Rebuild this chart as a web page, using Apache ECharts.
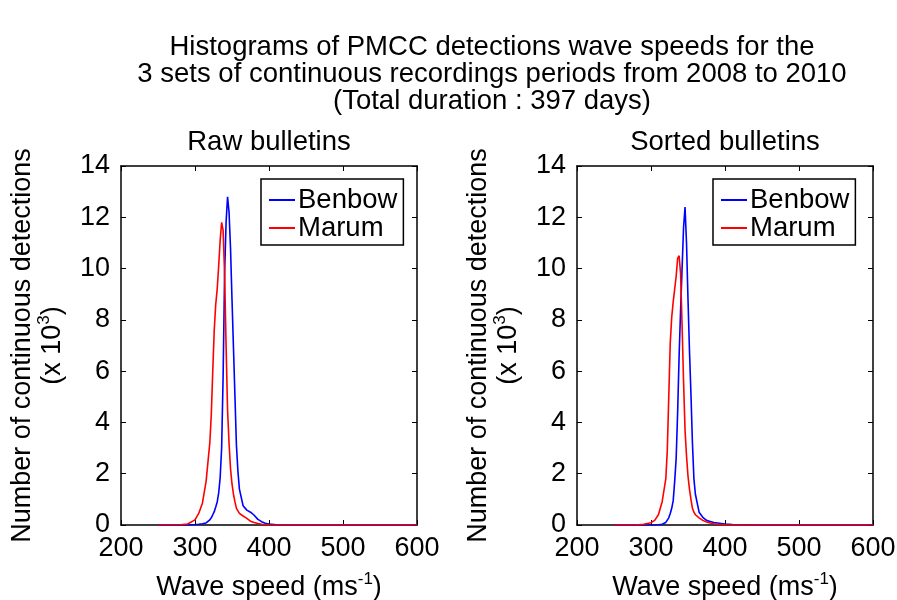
<!DOCTYPE html>
<html>
<head>
<meta charset="utf-8">
<title>PMCC wave speed histograms</title>
<script src="https://cdn.jsdelivr.net/npm/echarts@6/dist/echarts.min.js"></script>
<style>
  html, body { margin: 0; padding: 0; background: #fff; }
  #chart { width: 897px; height: 600px; }
</style>
</head>
<body>
<div id="chart"></div>
<script>
// Wave speed bins (m/s), shared by both panels.
const speeds = [250, 280, 290, 300, 305, 310, 315, 320, 322, 324, 326, 328, 330, 332, 334, 336, 338, 340,
  342, 344, 346, 348, 350, 352, 354, 356, 358, 360, 365, 370, 375, 380, 385, 390, 395, 400, 410, 450, 500, 600];

// Counts in thousands.
const rawBenbow = [0, 0, 0.005, 0.02, 0.03, 0.05, 0.08, 0.2, 0.28, 0.4, 0.52, 0.7, 0.9, 1.25, 1.85, 3.0, 5.8, 9.8,
  11.8, 12.8, 12.2, 10.8, 8.8, 6.9, 5.0, 3.1, 2.1, 1.4, 0.75, 0.58, 0.5, 0.38, 0.22, 0.13, 0.07, 0.04, 0.01, 0, 0, 0];
const rawMarum = [0, 0.01, 0.04, 0.2, 0.45, 0.85, 1.7, 3.2, 4.3, 6.0, 7.6, 8.6, 9.2, 10.1, 11.1, 11.8, 11.5, 9.8,
  7.0, 4.5, 3.2, 2.2, 1.6, 1.2, 0.9, 0.65, 0.55, 0.45, 0.35, 0.26, 0.15, 0.1, 0.06, 0.03, 0.02, 0.01, 0, 0, 0, 0];
const sortedBenbow = [0, 0, 0, 0, 0, 0.01, 0.03, 0.1, 0.17, 0.28, 0.45, 0.65, 0.95, 1.7, 2.6, 4.4, 6.6, 8.4,
  10.0, 11.6, 12.4, 11.0, 8.8, 6.8, 5.1, 3.2, 1.8, 1.2, 0.5, 0.3, 0.18, 0.14, 0.1, 0.08, 0.06, 0.04, 0.02, 0, 0, 0];
const sortedMarum = [0, 0, 0.03, 0.09, 0.18, 0.4, 0.9, 1.8, 2.9, 5.0, 7.1, 8.1, 8.7, 9.2, 9.7, 10.4, 10.5, 9.8,
  7.8, 5.6, 3.7, 2.7, 1.9, 1.4, 1.0, 0.65, 0.5, 0.4, 0.28, 0.18, 0.12, 0.08, 0.05, 0.03, 0.02, 0.01, 0, 0, 0, 0];

const panelTitles = ['Raw bulletins', 'Sorted bulletins'];
const seriesNames = ['Benbow', 'Marum'];
const titleLines = [
  'Histograms of PMCC detections wave speeds for the',
  '3 sets of continuous recordings periods from 2008 to 2010',
  '(Total duration : 397 days)'
];

const FONT = 'Liberation Sans, Arial, Helvetica, sans-serif';
const BLUE = '#0000ff';
const RED = '#ff0000';

const pairs = (ys) => speeds.map((s, i) => [s, ys[i]]);

// Plot boxes in pixels: left panel and right panel.
// outerBoundsMode none keeps the boxes fixed even if labels run close to the edge.
const grids = [
  { left: 121, right: 480, top: 166, bottom: 75, outerBoundsMode: 'none', containLabel: false },
  { left: 577, right: 24, top: 166, bottom: 75, outerBoundsMode: 'none', containLabel: false }
];

const richText = {
  n: { fontSize: 27, fontFamily: FONT, color: '#000', verticalAlign: 'bottom', lineHeight: 30 },
  sup: { fontSize: 17, fontFamily: FONT, color: '#000', verticalAlign: 'top', lineHeight: 30 }
};

const xAxes = [];
const yAxes = [];
grids.forEach((g, i) => {
  // main bottom axis
  xAxes.push({
    gridIndex: i, type: 'value', min: 200, max: 600, interval: 100,
    axisLine: { lineStyle: { color: '#000', width: 1.5 } },
    axisTick: { inside: true, length: 5, lineStyle: { color: '#000' } },
    axisLabel: { fontSize: 27, fontFamily: FONT, color: '#000', margin: 10 },
    splitLine: { show: false },
    name: '{n|Wave speed (ms}{sup|-1}{n|)}',
    nameLocation: 'middle', nameGap: 46,
    nameTextStyle: { rich: richText }
  });
  // top box edge
  xAxes.push({
    gridIndex: i, type: 'value', min: 200, max: 600, interval: 100, position: 'top',
    axisLine: { onZero: false, lineStyle: { color: '#000', width: 1.5 } },
    axisTick: { inside: true, length: 5, lineStyle: { color: '#000' } },
    axisLabel: { show: false }, splitLine: { show: false }
  });
  yAxes.push({
    gridIndex: i, type: 'value', min: 0, max: 14, interval: 2,
    axisLine: { show: true, lineStyle: { color: '#000', width: 1.5 } },
    axisTick: { show: true, inside: true, length: 5, lineStyle: { color: '#000' } },
    axisLabel: { fontSize: 27, fontFamily: FONT, color: '#000', margin: 11 },
    splitLine: { show: false },
    name: '{n|Number of continuous detections}\n{n|(x 10}{sup|3}{n|)}',
    nameLocation: 'middle', nameGap: 55,
    nameTextStyle: { rich: richText }
  });
  // right box edge
  yAxes.push({
    gridIndex: i, type: 'value', min: 0, max: 14, interval: 2, position: 'right',
    axisLine: { show: true, onZero: false, lineStyle: { color: '#000', width: 1.5 } },
    axisTick: { show: true, inside: true, length: 5, lineStyle: { color: '#000' } },
    axisLabel: { show: false }, splitLine: { show: false }
  });
});

const lineSeries = (name, color, ys, panel) => ({
  name: name, type: 'line', data: pairs(ys),
  xAxisIndex: panel * 2, yAxisIndex: panel * 2,
  showSymbol: false, smooth: false, animation: false,
  lineStyle: { color: color, width: 1.6 }, itemStyle: { color: color }
});

const legendFor = (left) => ({
  data: seriesNames,
  orient: 'vertical',
  left: left, top: 179,
  icon: 'rect', itemWidth: 26, itemHeight: 2, itemGap: 0,
  padding: [7, 6, 3, 8],
  backgroundColor: '#fff', borderColor: '#000', borderWidth: 1.5,
  textStyle: { fontSize: 27.5, fontFamily: FONT, color: '#000', lineHeight: 26, padding: [0, 0, 0, -2] },
  selectedMode: false
});

const chart = echarts.init(document.getElementById('chart'), null, { renderer: 'canvas' });

chart.setOption({
  animation: false,
  backgroundColor: '#fff',
  color: [BLUE, RED],
  grid: grids,
  xAxis: xAxes,
  yAxis: yAxes,
  legend: [legendFor(261), legendFor(713)],
  series: [
    lineSeries(seriesNames[0], BLUE, rawBenbow, 0),
    lineSeries(seriesNames[1], RED, rawMarum, 0),
    lineSeries(seriesNames[0], BLUE, sortedBenbow, 1),
    lineSeries(seriesNames[1], RED, sortedMarum, 1)
  ],
  graphic: [
    {
      type: 'text', x: 492, y: 34,
      style: {
        text: titleLines.join('\n'), fontSize: 27.5, fontFamily: FONT, fill: '#000',
        textAlign: 'center', textVerticalAlign: 'top', lineHeight: 27
      }
    },
    {
      type: 'text', x: 269, y: 142,
      style: { text: panelTitles[0], fontSize: 27.5, fontFamily: FONT, fill: '#000', textAlign: 'center', textVerticalAlign: 'middle' }
    },
    {
      type: 'text', x: 725, y: 142,
      style: { text: panelTitles[1], fontSize: 27.5, fontFamily: FONT, fill: '#000', textAlign: 'center', textVerticalAlign: 'middle' }
    }
  ]
});

window.addEventListener('resize', () => chart.resize());
</script>
</body>
</html>
